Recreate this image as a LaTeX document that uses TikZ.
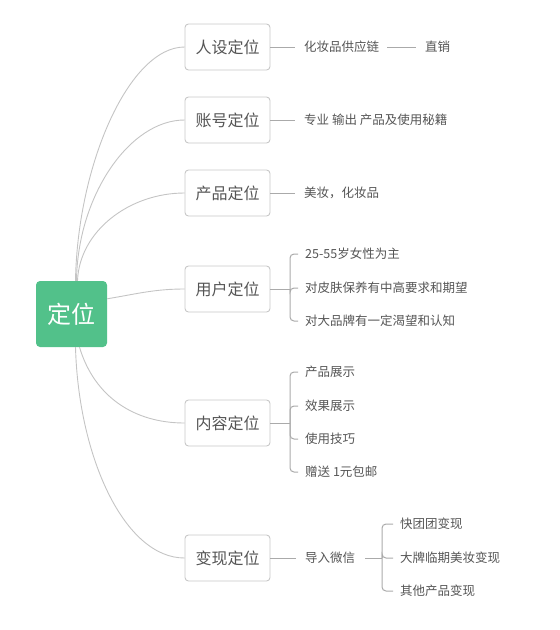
\documentclass[tikz,border=0pt]{standalone}
\usepackage{fontspec}
\newfontfamily\cjk{Noto Sans CJK SC}
\definecolor{rootgreen}{RGB}{82,193,138}
\definecolor{boxgray}{RGB}{200,200,200}
\definecolor{linegray}{RGB}{196,196,196}
\definecolor{brgray}{RGB}{170,170,170}
\definecolor{txtgray}{RGB}{85,85,85}
\begin{document}
\begin{tikzpicture}[x=1pt,y=-1pt,
  rootbox/.style={fill=rootgreen, draw=none, rounded corners=4pt, minimum width=71pt, minimum height=66pt, inner sep=0pt, text=white, font=\cjk\fontsize{24}{24}\selectfont},
  lvlbox/.style={draw=boxgray, fill=white, line width=0.9pt, rounded corners=3.5pt, minimum width=85pt, minimum height=46pt, inner sep=0pt, text=txtgray, font=\cjk\fontsize{16}{16}\selectfont},
  leaf/.style={anchor=west, inner sep=0pt, text=txtgray, font=\cjk\fontsize{12.5}{13}\selectfont},
  link/.style={draw=linegray, line width=0.9pt},
  stem/.style={draw=brgray, line width=1pt},
  brk/.style={draw=brgray, line width=1pt, rounded corners=4pt, shorten >=7pt}
]
\useasboundingbox (0,0) rectangle (560,630);

\node[rootbox] (root) at (71.5,314) {定位};

\node[lvlbox] (p1) at (227.5,47) {人设定位};
\node[lvlbox] (p2) at (227.5,120) {账号定位};
\node[lvlbox] (p3) at (227.5,193) {产品定位};
\node[lvlbox] (p4) at (227.5,289) {用户定位};
\node[lvlbox] (p5) at (227.5,423) {内容定位};
\node[lvlbox] (p6) at (227.5,558) {变现定位};

% curves from root
\draw[link] ([xshift=4pt]root.north) .. controls +(2,-117) and +(-55,0) .. (p1.west);
\draw[link] ([xshift=5pt]root.north) .. controls +(1,-85) and +(-55,0) .. (p2.west);
\draw[link] ([xshift=6pt]root.north) .. controls +(2,-50) and +(-55,0) .. (p3.west);
\draw[link] ([yshift=-18pt]root.north east) .. controls +(30,-5) and +(-30,0) .. (p4.west);
\draw[link] ([xshift=8pt]root.south) .. controls +(15,50) and +(-50,0) .. (p5.west);
\draw[link] ([xshift=4pt]root.south) .. controls +(3,110) and +(-60,0) .. (p6.west);

% level 2 single
\node[leaf] (t1) at (304,47) {化妆品供应链};
\node[leaf] (t1b) at (425,47) {直销};
\node[leaf] (t2) at (304,120) {专业 输出 产品及使用秘籍};
\node[leaf] (t3) at (304,193) {美妆，化妆品};
\draw[stem] (p1.east) -- ([xshift=-9pt]t1.west);
\draw[stem] ([xshift=8pt]t1.east) -- ([xshift=-9pt]t1b.west);
\draw[stem] (p2.east) -- ([xshift=-9pt]t2.west);
\draw[stem] (p3.east) -- ([xshift=-9pt]t3.west);

% user group
\coordinate (b4) at (290,289);
\node[leaf] (c41) at (305,254) {25-55岁女性为主};
\node[leaf] (c42) at (305,288) {对皮肤保养有中高要求和期望};
\node[leaf] (c43) at (305,321) {对大品牌有一定渴望和认知};
\draw[stem] (p4.east) -- (b4);
\draw[brk] (b4) |- (c41.west);
\draw[brk] (b4) |- (c42.west);
\draw[brk] (b4) |- (c43.west);

% content group
\coordinate (b5) at (290,423);
\node[leaf] (c51) at (305,372) {产品展示};
\node[leaf] (c52) at (305,406) {效果展示};
\node[leaf] (c53) at (305,439) {使用技巧};
\node[leaf] (c54) at (305,472) {赠送 1元包邮};
\draw[stem] (p5.east) -- (b5);
\draw[brk] (b5) |- (c51.west);
\draw[brk] (b5) |- (c52.west);
\draw[brk] (b5) |- (c53.west);
\draw[brk] (b5) |- (c54.west);

% monetisation group
\node[leaf] (t6) at (305,558) {导入微信};
\coordinate (b6) at (382,558);
\node[leaf] (c61) at (400,524) {快团团变现};
\node[leaf] (c62) at (400,558) {大牌临期美妆变现};
\node[leaf] (c63) at (400,591) {其他产品变现};
\draw[stem] (p6.east) -- ([xshift=-9pt]t6.west);
\draw[stem] ([xshift=10pt]t6.east) -- (b6);
\draw[brk] (b6) |- (c61.west);
\draw[brk] (b6) |- (c62.west);
\draw[brk] (b6) |- (c63.west);
\end{tikzpicture}
\end{document}
